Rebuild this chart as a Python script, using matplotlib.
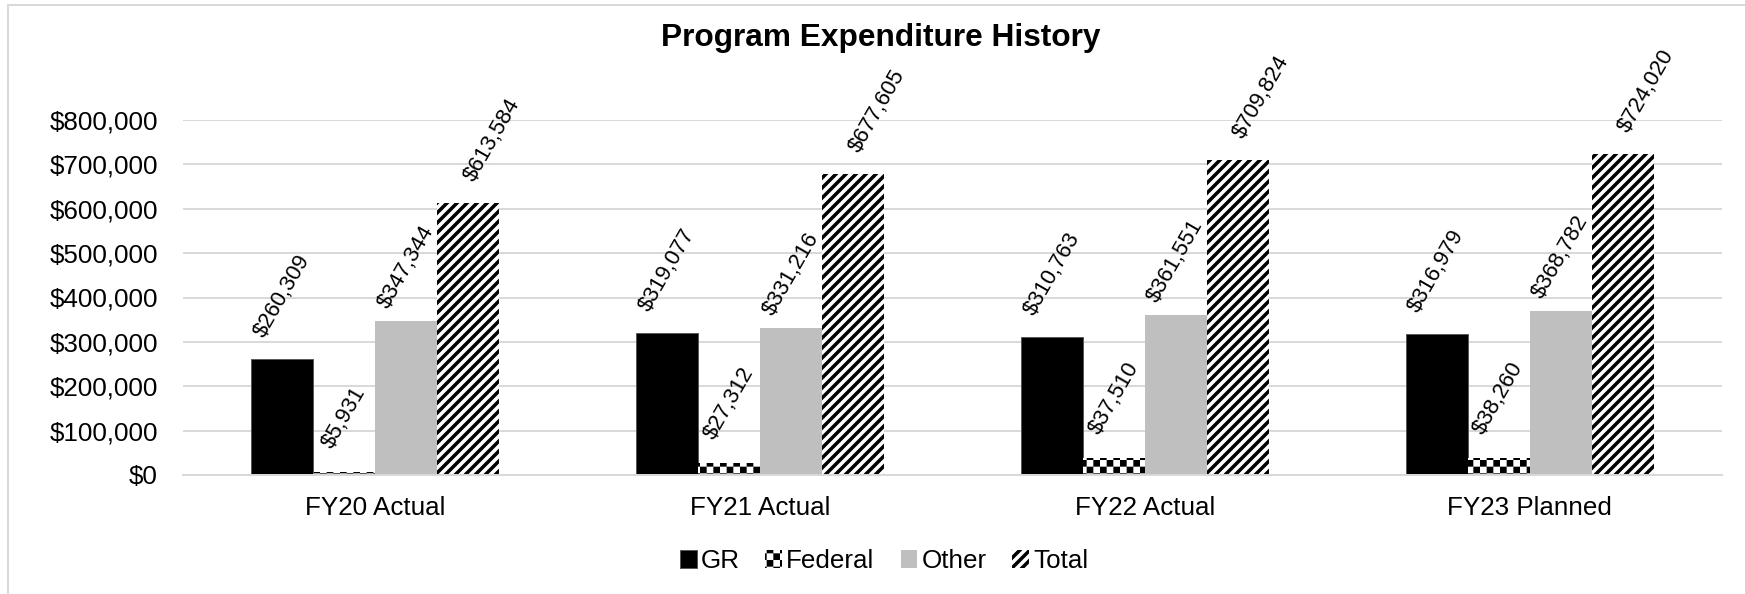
import numpy as np
import matplotlib
matplotlib.use("Agg")
import matplotlib.pyplot as plt
import matplotlib.hatch as mhatch
from matplotlib.path import Path
from matplotlib.patches import Rectangle

# ---------------- data ----------------
categories = ["FY20 Actual", "FY21 Actual", "FY22 Actual", "FY23 Planned"]
series_names = ["GR", "Federal", "Other", "Total"]
gr = [260309, 319077, 310763, 316979]
federal = [5931, 27312, 37510, 38260]
other = [347344, 331216, 361551, 368782]
total = [613584, 677605, 709824, 724020]
y_ticks = [0, 100000, 200000, 300000, 400000, 500000, 600000, 700000, 800000]

# ---------------- styling ----------------
W, H = 1745, 594
DPI = 120
PX = 72.0 / DPI  # points per pixel
HATCH_LW_PT = 3.5 * PX

plt.rcParams["font.family"] = ["Liberation Sans", "DejaVu Sans"]
plt.rcParams["hatch.linewidth"] = HATCH_LW_PT


class CheckerHatch(mhatch.HatchPatternBase):
    """Filled checkerboard hatch, triggered by 'O'."""

    def __init__(self, hatch, density):
        self.periods = hatch.count("O") * 9
        self.num_vertices = 2 * self.periods ** 2 * 5

    def set_vertices_and_codes(self, vertices, codes):
        n = self.periods
        s = 1.0 / (2 * n)
        d = (HATCH_LW_PT / 72.0) / 2.0
        verts = []
        cds = []
        sq_codes = [Path.MOVETO, Path.LINETO, Path.LINETO, Path.LINETO, Path.CLOSEPOLY]
        for i in range(n):
            for j in range(n):
                for (ox, oy) in ((0, 0), (1, 1)):
                    x0 = (2 * i + ox) * s
                    y0 = (2 * j + oy) * s
                    x1, y1 = x0 + s, y0 + s
                    verts += [(x0 + d, y0 + d), (x1 - d, y0 + d), (x1 - d, y1 - d),
                              (x0 + d, y1 - d), (x0 + d, y0 + d)]
                    cds += sq_codes
        vertices[:] = np.array(verts)
        codes[:] = np.array(cds)


class StripeHatch(mhatch.HatchPatternBase):
    """Wide diagonal stripes (lower-left to upper-right), triggered by '*'."""

    def __init__(self, hatch, density):
        self.n = hatch.count("*") * 12
        self.num_vertices = (2 * self.n + 1) * 2 if self.n else 0

    def set_vertices_and_codes(self, vertices, codes):
        n = self.n
        verts = []
        cds = []
        for k in range(-n, n + 1):
            c = k / n
            verts += [(-0.1, -0.1 + c), (1.1, 1.1 + c)]
            cds += [Path.MOVETO, Path.LINETO]
        vertices[:] = np.array(verts)
        codes[:] = np.array(cds)


mhatch._hatch_types[:] = [t for t in mhatch._hatch_types
                          if t not in (mhatch.LargeCircles, mhatch.Stars)] + \
    [CheckerHatch, StripeHatch]

fig = plt.figure(figsize=(W / DPI, H / DPI), dpi=DPI)
ax = fig.add_axes([183 / W, 1 - 475 / H, (1722 - 183) / W, (475 - 120) / H])

x = np.arange(len(categories))
bw = 0.161
series = [gr, federal, other, total]
styles = [
    dict(color="black", edgecolor="#595959", linewidth=0.6),
    dict(color="white", edgecolor="black", linewidth=0, hatch="O"),
    dict(color="#bfbfbf", edgecolor="#bfbfbf", linewidth=0),
    dict(color="white", edgecolor="black", linewidth=0, hatch="*"),
]
# label offsets (pixels): dx, dy
label_off = [(0, 18), (0, 20), (0, 9), (24, 18)]

for k, (vals, st, name) in enumerate(zip(series, styles, series_names)):
    pos = x + (k - 1.5) * bw
    ax.bar(pos, vals, width=bw, label=name, zorder=2, **st)
    dx, dy = label_off[k]
    for px_, v in zip(pos, vals):
        ax.annotate(f"${v:,.0f}", xy=(px_, v), xytext=(dx * PX, dy * PX),
                    textcoords="offset points", rotation=60,
                    rotation_mode="default", ha="center", va="bottom",
                    fontsize=22 * PX, color="black", zorder=1.5)

ax.set_xlim(-0.5, len(categories) - 0.5)
ax.set_ylim(0, 800000)
ax.set_yticks(y_ticks)
ax.set_yticklabels([f"${v:,.0f}" for v in y_ticks])
ax.set_xticks(x)
ax.set_xticklabels(categories)
ax.tick_params(axis="both", length=0, labelsize=26 * PX)
ax.tick_params(axis="y", pad=25 * PX)
ax.tick_params(axis="x", pad=21 * PX)
ax.grid(axis="y", color="#d9d9d9", linewidth=2 * PX, zorder=0)
ax.set_axisbelow(True)
for side in ["top", "right", "left"]:
    ax.spines[side].set_visible(False)
ax.spines["bottom"].set_color("#d9d9d9")
ax.spines["bottom"].set_linewidth(2 * PX)
ax.patch.set_alpha(0)

fig.text(881 / W, 1 - 38 / H, "Program Expenditure History", ha="center",
         va="center", fontsize=31.6 * PX, fontweight="bold")

leg = fig.legend(loc="center", bbox_to_anchor=(884 / W, 1 - 561 / H), ncol=4,
                 frameon=False, fontsize=26 * PX, handlelength=0.65,
                 handleheight=0.65, handletextpad=0.15, columnspacing=1.0,
                 borderpad=0, borderaxespad=0)

fig.patches.append(Rectangle((8 / W, -0.1), 1.2, 1.1 - 5 / H,
                             transform=fig.transFigure, fill=False,
                             edgecolor="#d9d9d9", linewidth=2 * PX, zorder=0))

fig.savefig("out.png", dpi=DPI)
